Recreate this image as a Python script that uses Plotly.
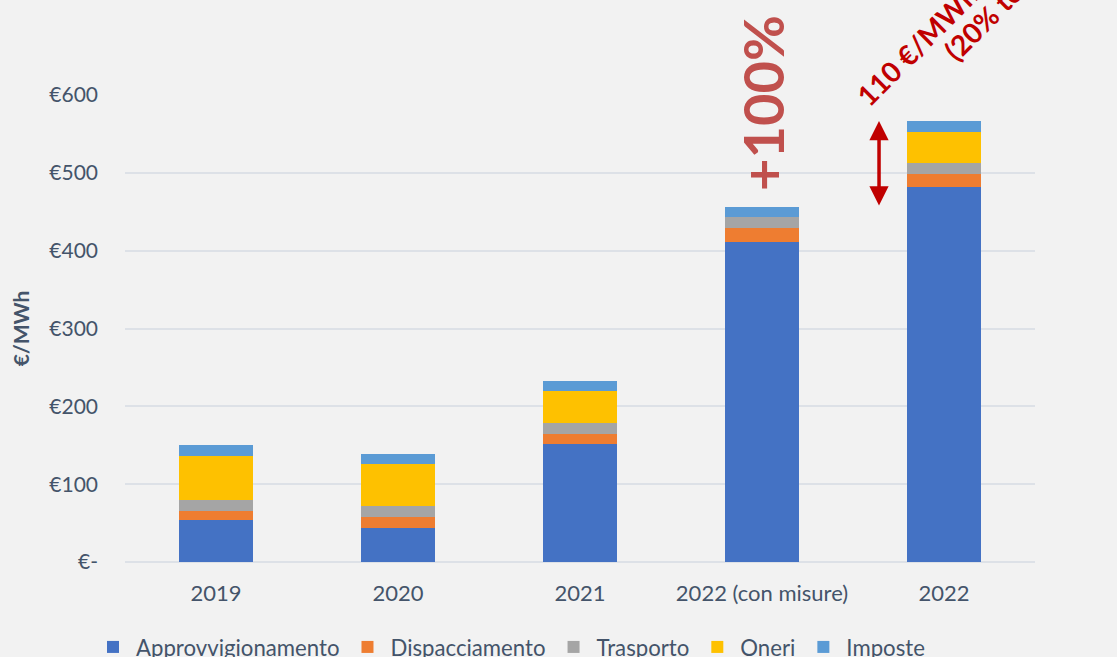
import plotly.graph_objects as go

# Costo dell'energia elettrica per componente (€/MWh)
categories = ["2019", "2020", "2021", "2022 (con misure)", "2022"]
approvvigionamento = [54.0, 44.0, 152.0, 411.6, 481.8]
dispacciamento = [11.5, 13.7, 13.0, 17.5, 17.0]
trasporto = [14.0, 14.2, 13.7, 14.2, 13.8]
oneri = [56.5, 54.0, 41.0, 0.0, 40.0]
imposte = [14.0, 13.0, 13.0, 12.8, 14.0]

series_names = ["Approvvigionamento", "Dispacciamento", "Trasporto", "Oneri", "Imposte"]
series_values = [approvvigionamento, dispacciamento, trasporto, oneri, imposte]
series_colors = ["#4472c4", "#ee7d31", "#a5a5a5", "#fec100", "#5b9bd5"]

y_tick_values = [0, 100, 200, 300, 400, 500, 600]
y_tick_text = ["€-", "€100", "€200", "€300", "€400", "€500", "€600"]

increase_label = "+100%"
delta_label_line1 = "110 €/MWh"
delta_label_line2 = "(20% totale)"

TEXT = "#44546a"
RED = "#c00000"
FONT = "Lato"

fig = go.Figure()
for name, vals, col in zip(series_names, series_values, series_colors):
    fig.add_trace(go.Bar(
        x=categories, y=vals, name=name,
        marker=dict(color=col, line=dict(width=0)),
    ))

totals = [sum(v) for v in zip(*series_values)]
i_misure = categories.index("2022 (con misure)")
i_2022 = categories.index("2022")

# double arrow between the two 2022 totals
arrow_x = 3.643
fig.add_annotation(
    x=arrow_x, y=totals[i_2022], ax=arrow_x, ay=totals[i_misure],
    xref="x", yref="y", axref="x", ayref="y",
    text="", showarrow=True, arrowside="end+start",
    arrowhead=2, arrowsize=1.1, arrowwidth=3.5, arrowcolor=RED,
    standoff=0, startstandoff=0,
)

fig.add_annotation(
    x=i_misure, y=totals[i_misure], xref="x", yref="y",
    text=increase_label, showarrow=False, textangle=-90,
    xanchor="center", yanchor="bottom", yshift=14,
    font=dict(family=FONT, size=56, color="#c0504d", weight="bold"),
)

fig.add_annotation(
    x=(917 - 125) / 910, y=(562 - 45) / 467, xref="paper", yref="paper",
    text=delta_label_line1, showarrow=False, textangle=-45,
    xanchor="center", yanchor="middle",
    font=dict(family=FONT, size=28, color=RED, weight="bold"),
)
fig.add_annotation(
    x=(1002 - 125) / 910, y=(562 - 2) / 467, xref="paper", yref="paper",
    text=delta_label_line2, showarrow=False, textangle=-45,
    xanchor="center", yanchor="middle",
    font=dict(family=FONT, size=28, color=RED, weight="bold"),
)

fig.update_layout(
    width=1117, height=657,
    margin=dict(l=125, r=82, t=95, b=95, autoexpand=False),
    paper_bgcolor="#f2f2f2", plot_bgcolor="#f2f2f2",
    barmode="stack", bargap=0.593,
    font=dict(family=FONT, size=21, color=TEXT),
    showlegend=True,
    legend=dict(
        orientation="h", traceorder="normal", itemwidth=36,
        xref="container", x=90 / 1117, xanchor="left",
        yref="container", y=1 - 647 / 657, yanchor="middle",
        font=dict(family=FONT, size=22.2, color=TEXT),
        bgcolor="rgba(0,0,0,0)",
    ),
    xaxis=dict(
        type="category", showgrid=False, zeroline=False, showline=False,
        ticks="", ticklabelstandoff=16,
        tickfont=dict(family=FONT, size=22, color=TEXT),
    ),
    yaxis=dict(
        range=[0, 600], tickvals=y_tick_values, ticktext=y_tick_text,
        showgrid=True, gridcolor="#dde1e7", gridwidth=1.6,
        zeroline=True, zerolinecolor="#dde1e7", zerolinewidth=1.6,
        showline=False, ticks="", ticklabelstandoff=26,
        tickfont=dict(family=FONT, size=21, color=TEXT),
        title=dict(text="<b>€/MWh</b>", standoff=13,
                   font=dict(family=FONT, size=21, color=TEXT)),
    ),
)

fig.write_html("out.html")
